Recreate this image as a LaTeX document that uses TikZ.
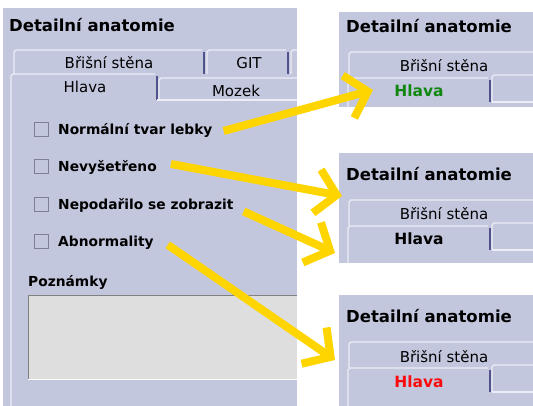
\documentclass[tikz,border=0pt]{standalone}
\usepackage{fontspec}
\setmainfont{DejaVu Sans}
\usetikzlibrary{arrows.meta}
\definecolor{panelbg}{RGB}{195,199,222}
\definecolor{notebg}{RGB}{222,222,222}
\definecolor{tabdark}{RGB}{80,82,140}
\definecolor{tablight}{RGB}{236,237,246}
\definecolor{boxline}{RGB}{125,127,150}
\definecolor{hiyellow}{RGB}{255,213,0}
\definecolor{hgreen}{RGB}{16,136,16}
\definecolor{hred}{RGB}{250,10,10}
\begin{document}
\begin{tikzpicture}[x=1pt, y=-1pt,
    title/.style={anchor=base west, inner sep=0pt, font=\fontsize{16.5}{18}\selectfont\bfseries},
    opt/.style={anchor=base west, inner sep=0pt, font=\fontsize{13.8}{16}\selectfont\bfseries},
    tabtxt/.style={anchor=base, inner sep=0pt, font=\fontsize{15}{17}\selectfont},
    chk/.style={draw=boxline, line width=1pt, fill=panelbg, minimum size=14pt, inner sep=0pt},
    lite/.style={draw=tablight, line width=1.2pt},
    dark/.style={draw=tabdark, line width=1.5pt},
    pointer/.style={draw=hiyellow, line width=8pt, -{Straight Barb[length=20pt,width=44pt]}}]
    \fill[white] (0,0) rectangle (533,406);
    \useasboundingbox (0,0) rectangle (533,406);
    % left dialog
    \fill[panelbg] (3,8) rectangle (297,406);
    \node[title] (head) at (9,32) {Detailní anatomie};
    \draw[lite] (14,74) -- (14,52) -- (16,50) -- (202,50);
    \draw[dark] (204,52) -- (204,74);
    \node[tabtxt] (tabbris) at (109,69) {Břišní stěna};
    \draw[lite] (207,74) -- (207,52) -- (209,50) -- (286,50);
    \draw[dark] (288,52) -- (288,74);
    \node[tabtxt] (tabgit) at (249,69) {GIT};
    \draw[lite] (291,74) -- (291,52) -- (293,50) -- (297,50);
    \draw[lite] (11,406) -- (11,76) -- (13,74) -- (155,74);
    \draw[dark] (157,76) -- (157,100);
    \node[tabtxt] (tabhlava) at (85,93) {Hlava};
    \draw[lite] (159,100) -- (159,80) -- (161,78) -- (297,78);
    \draw[lite] (157,100) -- (297,100);
    \node[tabtxt] (tabmozek) at (236,97) {Mozek};
    \foreach \yy/\txt/\nm in {135/Normální tvar lebky/nor, 172/Nevyšetřeno/nev,
        210/Nepodařilo se zobrazit/nep, 247/Abnormality/abn} {
        \node[chk] (box-\nm) at (41.5,\yy-5.5) {};
        \node[opt] (\nm) at (58,\yy) {\txt};
    }
    \node[opt] (notes) at (28,287) {Poznámky};
    \fill[notebg] (28,295) rectangle (297,379);
    \draw[gray, line width=1.2pt] (28.5,379) -- (28.5,295.5) -- (297,295.5);
    \draw[white, line width=1pt] (28,379) -- (297,379);
    % three zoomed copies
    \foreach \ptop/\py/\pbot/\hcol/\nm in {12/5/107/hgreen/one, 153/153/263/black/two,
        295/295/406/hred/three} {
        \fill[panelbg] (339,\ptop) rectangle (533,\pbot);
        \node[title] (head-\nm) at (346,\py+28) {Detailní anatomie};
        \draw[lite] (349,\py+73) -- (349,\py+49) -- (351,\py+47) -- (533,\py+47);
        \node[tabtxt] (bris-\nm) at (444,\py+67) {Břišní stěna};
        \draw[lite] (348,\pbot) -- (348,\py+75) -- (350,\py+73) -- (488,\py+73);
        \draw[dark] (490,\py+75) -- (490,\py+97);
        \draw[lite] (492,\py+97) -- (492,\py+72) -- (494,\py+70) -- (533,\py+70);
        \draw[lite] (492,\py+97) -- (533,\py+97);
        \node[tabtxt, font=\fontsize{15.5}{17}\selectfont\bfseries, text=\hcol] (hlava-\nm) at (419,\py+92) {Hlava};
    }
    \coordinate (tip-one) at (373,90);
    \coordinate (tip-two) at (342,196);
    \coordinate (tip-three) at (335,253);
    \coordinate (tip-four) at (335,360);
    \draw[pointer] ([xshift=11pt]nor.east) -- (tip-one);
    \draw[pointer] ([xshift=14pt,yshift=4pt]nev.east) -- (tip-two);
    \draw[pointer] ([xshift=10pt,yshift=-5.5pt]nep.east) -- (tip-three);
    \draw[pointer] ([xshift=14pt,yshift=-1.6pt]abn.east) -- (tip-four);
\end{tikzpicture}
\end{document}
